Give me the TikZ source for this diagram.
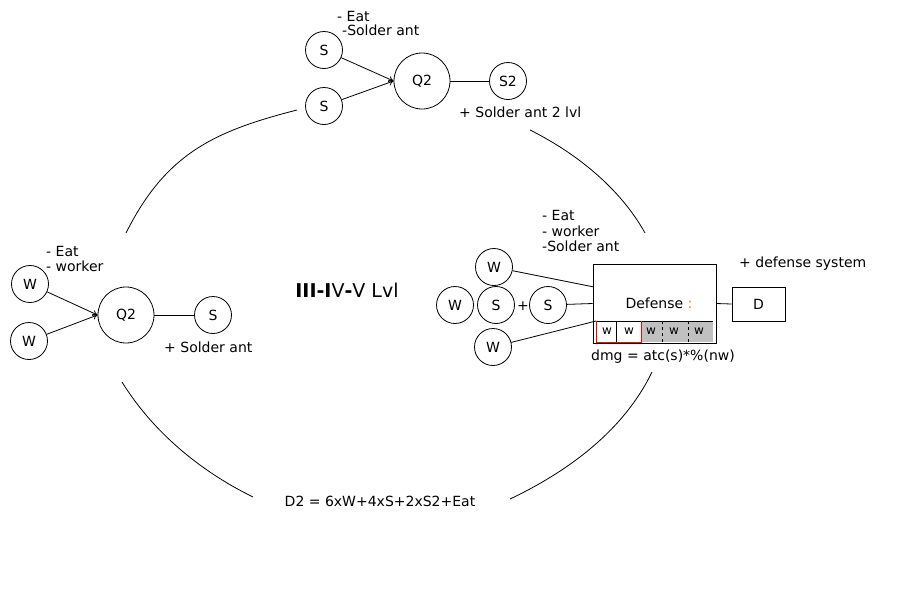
\documentclass[tikz,border=0pt]{standalone}
\usepackage{fontspec}
\setmainfont{DejaVu Sans}
\usetikzlibrary{arrows.meta}
\definecolor{cellgray}{RGB}{192,192,192}
\definecolor{colonorange}{RGB}{225,130,30}
\begin{document}
\begin{tikzpicture}[x=1pt,y=-1pt,
  every node/.style={inner sep=0pt, font=\fontsize{14}{16}\selectfont},
  ant/.style={draw, circle, minimum size=37pt, line width=0.8pt},
  queen/.style={draw, circle, minimum size=56pt, line width=0.8pt},
  lbl/.style={anchor=west, align=left},
  conn/.style={line width=0.8pt},
  arr/.style={line width=0.8pt, -{To[length=5pt,width=6pt]}},
  arcline/.style={line width=0.8pt},
  cell/.style={font=\fontsize{12}{14}\selectfont}
]
\useasboundingbox (0,0) rectangle (921,598);

% ---- top group
\node[ant] (ts1) at (324,50) {S};
\node[ant] (ts2) at (324,106) {S};
\node[queen] (tq) at (422,81) {Q2};
\node[ant] (ts3) at (508,81) {S2};
\draw[arr] (ts1) -- (tq.west);
\draw[arr] (ts2) -- (tq.west);
\draw[conn] (tq) -- (ts3);
\node[lbl] (teat) at (337,16) {- Eat};
\node[lbl] (tsol) at (342,30) {-Solder ant};
\node[lbl] (tplus) at (459,112) {+ Solder ant 2 lvl};

% ---- left group
\node[ant] (lw1) at (30,284) {W};
\node[ant] (lw2) at (29,341) {W};
\node[queen] (lq) at (126,315) {Q2};
\node[ant] (ls) at (213,315) {S};
\draw[arr] (lw1) -- (lq.west);
\draw[arr] (lw2) -- (lq.west);
\draw[conn] (lq) -- (ls);
\node[lbl] (leat) at (46,251) {- Eat};
\node[lbl] (lwork) at (46,266) {- worker};
\node[lbl] (lplus) at (164,347) {+ Solder ant};

% ---- centre label
\node (lvl) at (347,290) {\fontsize{19}{22}\selectfont\textbf{III-I}V\textbf{-}V Lvl};

% ---- right group
\node[ant] (rw1) at (494,267) {W};
\node[ant] (rw2) at (455,305) {W};
\node[ant] (rs1) at (496,305) {S};
\node (plus) at (523,306) {+};
\node[ant] (rs2) at (548,305) {S};
\node[ant] (rw3) at (493,347) {W};
\node[draw, line width=0.8pt, minimum width=123pt, minimum height=79pt] (defbox) at (654.5,303.5) {};
\fill[cellgray] (641,321) rectangle (713,342);
\draw[line width=0.8pt] (596,321) -- (713,321);
\draw[line width=0.8pt] (616,321) -- (616,342);
\draw[line width=0.8pt, dashed] (662,321) -- (662,342);
\draw[line width=0.8pt, dashed] (688,321) -- (688,342);
\draw[red, line width=0.8pt] (596,321) -- (596,342) -- (641,342) -- (641,321);
\node[cell] (c1) at (607,331) {w};
\node[cell] (c2) at (629,331) {w};
\node[cell] (c3) at (651,331) {w};
\node[cell] (c4) at (674,331) {w};
\node[cell] (c5) at (699,331) {w};
\coordinate (e1) at (594,287);
\coordinate (e3) at (596,321);
\draw[conn] (rw1) -- (e1);
\draw[conn] (rs2) -- (defbox.west);
\draw[conn] (rw3) -- (e3);
\node (deftxt) at (659,303) {Defense \textcolor{colonorange}{:}};
\node[draw, line width=0.8pt, minimum width=53pt, minimum height=34pt] (dbox) at (758.5,304) {D};
\draw[conn] (defbox.east) -- (dbox.west);
\node[lbl] (reat) at (542,215) {- Eat};
\node[lbl] (rwork) at (542,231) {- worker};
\node[lbl] (rsol) at (542,246) {-Solder ant};
\node[lbl] (rdef) at (739,264) {+ defense system};
\node (dmg) at (663,357) {dmg = atc(s)*\%(nw)};

% ---- bottom formula
\node (d2) at (380,501) {D2 = 6xW+4xS+2xS2+Eat};

% ---- cycle arcs
\draw[arcline] (126,233) .. controls (166,153) and (215,131) .. (297,110);
\draw[arcline] (530,130) .. controls (576,153) and (620,188) .. (645,233);
\draw[arcline] (652,372) .. controls (624,430) and (569,471) .. (510,499);
\draw[arcline] (122,382) .. controls (153,432) and (200,471) .. (253,497);
\end{tikzpicture}
\end{document}
